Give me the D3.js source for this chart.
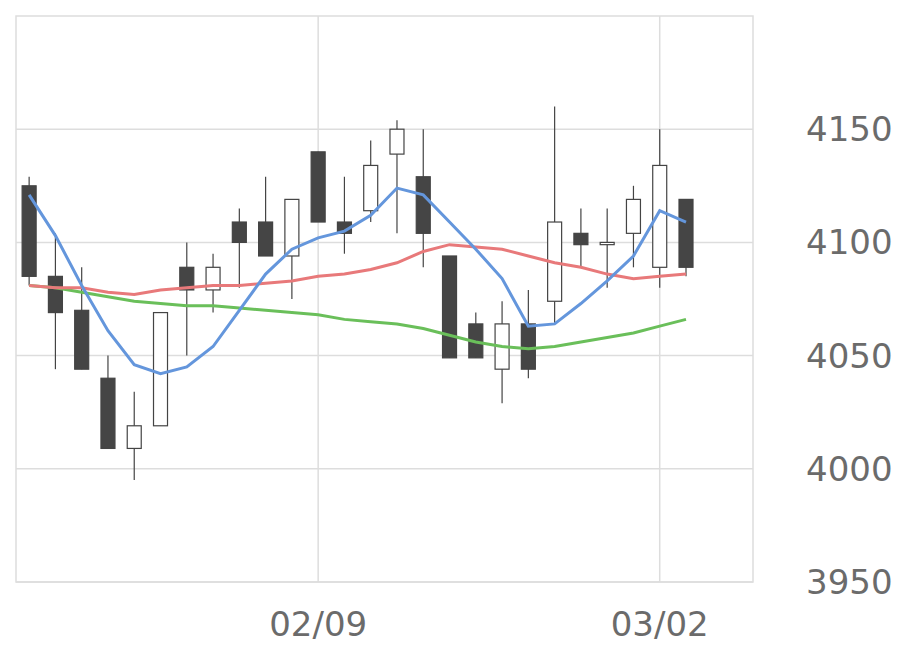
<!DOCTYPE html>
<html><head><meta charset="utf-8">
<script src="https://cdn.jsdelivr.net/npm/d3@7"></script>
<style>body{margin:0;background:#fff}</style>
</head><body><svg id="chart"></svg>
<script>
const opens  = [4125,4085,4070,4040,4009,4019,4089,4079,4109,4109,4094,4140,4109,4114,4139,4129,4094,4064,4044,4064,4074,4104,4099,4104,4089,4119];
const closes = [4085,4069,4044,4009,4019,4069,4079,4089,4100,4094,4119,4109,4104,4134,4150,4104,4049,4049,4064,4044,4109,4099,4100,4119,4134,4089];
const highs  = [4129,4104,4089,4050,4034,4069,4100,4095,4115,4129,4119,4140,4129,4145,4154,4150,4094,4069,4074,4079,4160,4115,4115,4125,4150,4119];
const lows   = [4081,4044,4044,4009,3995,4019,4050,4069,4080,4094,4075,4109,4095,4109,4104,4089,4049,4049,4029,4040,4064,4089,4080,4089,4080,4085];
const maBlue = [4121,4103,4081,4061,4046,4042,4045,4054,4070,4086,4097,4102,4105,4112,4124,4121,4109,4097,4084,4063,4064,4073,4083,4094,4114,4109];
const maRed  = [4081,4080,4080,4078,4077,4079,4080,4081,4081,4082,4083,4085,4086,4088,4091,4096,4099,4098,4097,4094,4091,4089,4086,4084,4085,4086];
const maGreen= [4081,4080,4078,4076,4074,4073,4072,4072,4071,4070,4069,4068,4066,4065,4064,4062,4059,4056,4054,4053,4054,4056,4058,4060,4063,4066];
const xTicks = [11, 24];
const xTickLabels = ['02/09', '03/02'];
const yTicks = [3950, 4000, 4050, 4100, 4150];

const width = 920, height = 669;
const pLeft = 16, pRight = 753, pTop = 16, pBottom = 582;

const svg = d3.select('#chart').attr('width', width).attr('height', height);

const x = d3.scaleLinear().domain([-0.5, 27.55]).range([pLeft, pRight]);
const y = d3.scaleLinear().domain([3950, 4200]).range([pBottom, pTop]);

// grid
svg.selectAll('.hg').data(yTicks).enter().append('line')
  .attr('x1', pLeft).attr('x2', pRight)
  .attr('y1', d => y(d)).attr('y2', d => y(d))
  .attr('stroke', '#dddddd').attr('stroke-width', 1.5);
svg.selectAll('.vg').data(xTicks).enter().append('line')
  .attr('y1', pTop).attr('y2', pBottom)
  .attr('x1', d => x(d)).attr('x2', d => x(d))
  .attr('stroke', '#dddddd').attr('stroke-width', 1.5);
svg.append('rect').attr('x', pLeft).attr('y', pTop)
  .attr('width', pRight - pLeft).attr('height', pBottom - pTop)
  .attr('fill', 'none').attr('stroke', '#dddddd').attr('stroke-width', 1.5);

// labels
svg.selectAll('.yl').data(yTicks).enter().append('text')
  .attr('x', 806).attr('y', d => y(d)).attr('dy', '0.35em')
  .attr('font-family', 'DejaVu Sans').attr('font-size', 34).attr('fill', '#6b6b6b')
  .text(d => d);
svg.selectAll('.xl').data(xTicks).enter().append('text')
  .attr('x', d => x(d)).attr('y', 636).attr('text-anchor', 'middle')
  .attr('font-family', 'DejaVu Sans').attr('font-size', 34).attr('fill', '#6b6b6b')
  .text((d, i) => xTickLabels[i]);

// candles
const idx = d3.range(opens.length);
const bw = 14;
svg.selectAll('.wick').data(idx).enter().append('line')
  .attr('x1', i => x(i)).attr('x2', i => x(i))
  .attr('y1', i => y(highs[i])).attr('y2', i => y(lows[i]))
  .attr('stroke', '#444').attr('stroke-width', 1.2);
svg.selectAll('.body').data(idx).enter().append('rect')
  .attr('x', i => x(i) - bw / 2).attr('width', bw)
  .attr('y', i => y(Math.max(opens[i], closes[i])))
  .attr('height', i => Math.max(1, Math.abs(y(opens[i]) - y(closes[i]))))
  .attr('fill', i => closes[i] < opens[i] ? '#454545' : '#fff')
  .attr('stroke', '#444').attr('stroke-width', 1.2);

// moving averages
const line = d3.line().x((d, i) => x(i)).y(d => y(d));
[[maGreen, '#6abf5a'], [maRed, '#e8797a'], [maBlue, '#6496dc']].forEach(([s, c]) => {
  svg.append('path').attr('d', line(s)).attr('fill', 'none')
    .attr('stroke', c).attr('stroke-width', 3);
});
</script>
</body></html>
